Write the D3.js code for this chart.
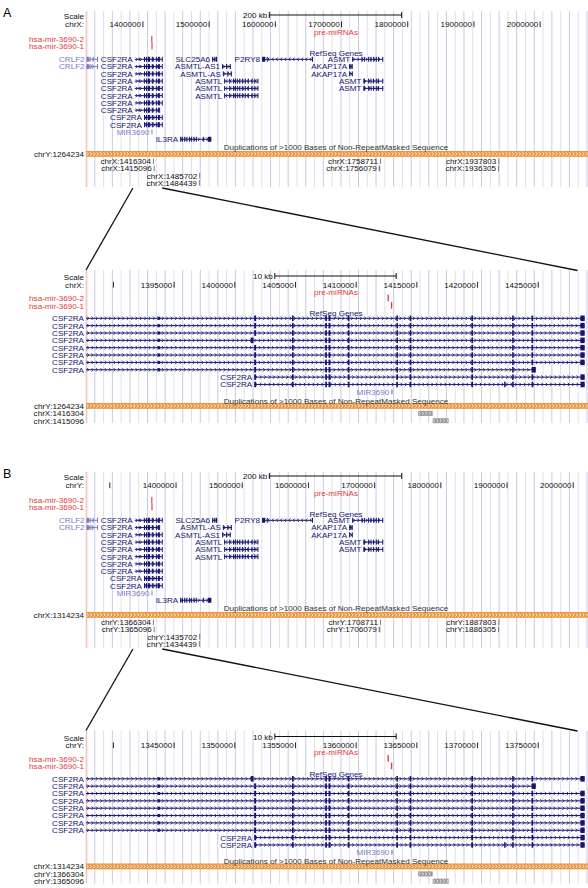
<!DOCTYPE html>
<html><head><meta charset="utf-8">
<script src="https://cdn.jsdelivr.net/npm/d3@7"></script>
<style>
body{margin:0;background:#fff}
text{font-family:"Liberation Sans",Arial,Helvetica,sans-serif}
</style>
</head><body>
<script>
// ---------------- DATA ----------------
const panelLabels = ["A", "B"];
const panelChroms = ["chrX", "chrY"];
const otherChroms = ["chrY", "chrX"];
const chromOffsets = [0, 50000];               // PAR1: chrY coordinate = chrX - 50000
const overviewRangeX = [1314000, 2072300];     // chrX coordinates
const detailRangeX = [1387740, 1429100];       // chrX coordinates
const overviewTicks = [1300000, 1400000, 1500000, 1600000, 1700000, 1800000, 1900000, 2000000];
const detailTicksByPanel = [
  [1390000, 1395000, 1400000, 1405000, 1410000, 1415000, 1420000, 1425000],
  [1340000, 1345000, 1350000, 1355000, 1360000, 1365000, 1370000, 1375000]
];
const overviewScaleKb = 200;
const detailScaleKb = 10;
const zoomLinkX = [1384900, 1429260];

const trackTitles = ["pre-miRNAs", "RefSeq Genes", "Duplications of >1000 Bases of Non-RepeatMasked Sequence"];

const mirNames = ["hsa-mir-3690-2", "hsa-mir-3690-1"];
const mirStarts = [1412580, 1412860];
const mirEnds = [1412690, 1412970];

// CSF2RA exons (chrX)
const csf2raExonStarts = [1393640, 1401600, 1404710, 1407450, 1407720, 1409310, 1413310, 1414410, 1419490, 1422850, 1424450, 1428480];
const csf2raExonEnds   = [1393860, 1401760, 1404850, 1407590, 1407880, 1409450, 1413440, 1414540, 1419630, 1422980, 1424580, 1428828];
const csf2raUtrExon = 0;
const csf2raVariantNames = ["v1", "v2", "v7", "v8", "v9"];
const csf2raVariantStarts = [1387650, 1387650, 1387650, 1401600, 1401600];
const csf2raVariantEnds   = [1428828, 1428828, 1424800, 1428828, 1428828];
const csf2raVariantExons = [
  [0,1,2,3,4,5,6,7,8,9,10,11],
  [0,2,3,4,5,6,7,8,9,10,11],
  [0,1,2,3,4,5,6,7,8,9],
  [1,2,3,4,5,6,7,8,9,10,11],
  [1,2,3,4,5,6,7,8,9,10,11]
];
const csf2raVariantExtra = [[], [[1401320, 1401540]], [[1424460, 1424800]], [], [[1422190, 1422310]]];
const csf2raOrderByPanel = [
  ["v1","v1","v1","v2","v1","v1","v1","v7","v8","v9"],
  ["v2","v7","v1","v1","v1","v1","v1","v1","v8","v9"]
];

// other RefSeq genes in the overview (chrX)
const geneNames   = ["CRLF2","CRLF2","SLC25A6","P2RY8","ASMT","ASMTL-AS1","ASMTL-AS","AKAP17A","AKAP17A","ASMTL","ASMTL","ASMTL","ASMT","ASMT","MIR3690","IL3RA"];
const geneStrands = [-1,-1,-1,-1,1,1,1,1,1,-1,-1,-1,1,1,1,1];
const genePredicted = [true,true,false,false,false,false,false,false,false,false,false,false,false,false,true,false];
const geneRowsA = [0,1,0,0,0,1,2,1,2,3,4,5,3,4,10,11];
const geneRowsB = [0,1,0,0,0,2,1,1,2,3,4,5,3,4,10,11];
const geneStarts = [1314894,1314894,1504500,1580000,1716000,1519600,1520700,1711500,1711500,1522700,1522700,1522700,1733100,1733100,1412900,1456200];
const geneEnds   = [1331616,1331616,1512100,1656600,1762800,1532700,1534300,1716500,1716500,1574000,1574000,1574000,1762800,1762800,1412990,1503300];
const asmtExons = [[1730200,1731200],[1733700,1734700],[1740200,1741200],[1743800,1744800],[1747700,1748700],[1751800,1752800],[1755200,1756200],[1761500,1762800]];
const asmtlExons = [[1522700,1523700],[1530300,1531300],[1536200,1537400],[1538800,1540000],[1541800,1543200],[1545600,1546800],[1549400,1550600],[1553900,1555000],[1558400,1559400],[1564000,1565000],[1568200,1569200],[1573000,1574000]];
const geneExons = [
  [[1314894,1318300],[1319500,1320700],[1324000,1325000],[1330600,1331616]],
  [[1314894,1318300],[1319500,1320700],[1322500,1323500],[1330600,1331616]],
  [[1504500,1506300],[1507900,1508900],[1510300,1512100]],
  [[1580000,1584600],[1587000,1588000],[1655400,1656600]],
  [[1716000,1717000]].concat(asmtExons),
  [[1519600,1521000],[1525500,1526500],[1531000,1532700]],
  [[1520700,1522200],[1527500,1528700],[1532500,1534300]],
  [[1711500,1712600],[1713400,1714500],[1715400,1716500]],
  [[1711500,1712500],[1715500,1716500]],
  asmtlExons, asmtlExons, asmtlExons,
  [[1733100,1734100]].concat(asmtExons.slice(1)),
  [[1733100,1734100]].concat(asmtExons.slice(1)),
  [[1412900,1412990]],
  [[1456200,1457000],[1458800,1459600],[1462300,1463100],[1465700,1466500],[1469400,1470200],[1472800,1473600],[1476400,1477200],[1479900,1480700],[1491000,1491800],[1498000,1503300]]
];

// duplication (orange) and paired items below it (chrX)
const dupStartX = 1314234, dupEndX = 2699520;
const chainValues = [1416304, 1415096, 1485702, 1484439, 1758711, 1756079, 1937803, 1936305];
const chainStarts = [1415100, 1416304, 1485000, 1484439, 1758000, 1756079, 1936800, 1936305];
const chainEnds   = [1416304, 1417620, 1485702, 1485100, 1758711, 1758500, 1937803, 1937400];
const chainRows   = [0, 1, 2, 3, 0, 1, 0, 1];

// ---------------- DRAWING ----------------
const W = 588, H = 888, X0 = 86, X1 = 588;
const NAVY = "#16166e", LIGHT = "#7b7bc3", RED = "#de3b3b", ORANGE = "#ea9640";
const FS = 8.1;
const svg = d3.select("body").append("svg").attr("width", W).attr("height", H);
svg.append("defs").append("clipPath").attr("id", "dc")
  .append("rect").attr("x", X0).attr("y", 0).attr("width", X1 - X0).attr("height", H);

function txt(g, x, y, s, anchor, fill, size) {
  return g.append("text").attr("x", x).attr("y", y).attr("text-anchor", anchor || "end")
    .attr("fill", fill || "#111").attr("font-size", size || FS).text(s);
}
function grid(g, y0, y1) {
  const step = 8.79;
  const xs = d3.range(1, Math.floor((X1 - X0) / step) + 1).map(i => X0 + i * step);
  g.selectAll(null).data(xs).enter().append("line")
    .attr("x1", d => d).attr("x2", d => d).attr("y1", y0).attr("y2", y1)
    .attr("stroke", (d, i) => i % 2 === 0 ? "#c9c9e4" : "#dfdfea").attr("stroke-width", 1);
  g.append("line").attr("x1", X0 + 0.5).attr("x2", X0 + 0.5).attr("y1", y0).attr("y2", y1)
    .attr("stroke", "#f3c2c2").attr("stroke-width", 1.6);
}
function chevrons(g, a, b, y, dir, step, color, sw, hh) {
  let d = "";
  for (let x = a + step / 2; x < b - 1; x += step) {
    if (dir > 0) d += `M${x - 1},${y - hh}L${x + 0.6},${y}L${x - 1},${y + hh}`;
    else d += `M${x + 1},${y - hh}L${x - 0.6},${y}L${x + 1},${y + hh}`;
  }
  g.append("path").attr("d", d).attr("fill", "none").attr("stroke", color).attr("stroke-width", sw);
}
function transcript(g, x, start, end, strand, exons, yc, color, exonH, chevStep, utrIdx) {
  const a = Math.max(x(start), X0), b = Math.min(x(end), X1);
  if (b < X0 || a > X1) return;
  g.append("line").attr("x1", a).attr("x2", b).attr("y1", yc).attr("y2", yc)
    .attr("stroke", color).attr("stroke-width", 1);
  chevrons(g, a, b, yc, strand, chevStep, color, 0.85, 1.7);
  exons.forEach((e, i) => {
    const h = (utrIdx && utrIdx.includes(i)) ? exonH * 0.55 : exonH;
    const xa = x(e[0]), w = Math.max(1, x(e[1]) - x(e[0]));
    g.append("rect").attr("x", xa).attr("y", yc - h / 2).attr("width", w).attr("height", h).attr("fill", color);
  });
}
function scaleBar(g, x, kb, y) {
  const d0 = x.domain()[0];
  const w = x(d0 + kb * 1000) - x(d0);
  const c = (X0 + X1) / 2 - 1.5, a = c - w / 2, b = c + w / 2;
  g.append("line").attr("x1", a).attr("x2", b).attr("y1", y).attr("y2", y).attr("stroke", "#111");
  [a, b].forEach(v => g.append("line").attr("x1", v).attr("x2", v).attr("y1", y - 3).attr("y2", y + 3).attr("stroke", "#111"));
  txt(g, a - 2, y + 3, `${kb} kb`);
}
function axisTicks(g, x, ticks, base) {
  ticks.filter(v => x(v) >= X0 && x(v) <= X1).forEach(v => {
    const px = x(v);
    g.append("line").attr("x1", px).attr("x2", px).attr("y1", base - 5.8).attr("y2", base).attr("stroke", "#111").attr("stroke-width", 0.9);
    const s = String(v);
    if (px - 2 - s.length * 4.45 >= X0 + 4) txt(g, px - 1.8, base, s);
  });
}
function csfTranscript(name) {
  const k = csf2raVariantNames.indexOf(name);
  const ex = csf2raVariantExons[k].map(i => [csf2raExonStarts[i], csf2raExonEnds[i]]).concat(csf2raVariantExtra[k]);
  const utr = csf2raVariantExons[k].indexOf(csf2raUtrExon);
  return { start: csf2raVariantStarts[k], end: csf2raVariantEnds[k], exons: ex, utr: utr >= 0 ? [utr] : [] };
}
function dupBar(g, xg, yc) {
  const a = Math.max(xg(dupStartX), X0), b = Math.min(xg(dupEndX), X1);
  g.append("rect").attr("x", a).attr("y", yc - 2.9).attr("width", b - a).attr("height", 5.8).attr("fill", ORANGE);
  chevrons(g, a, b, yc, 1, 3.35, "#fff8ee", 0.9, 1.7);
}

function overview(p, oy) {
  const off = chromOffsets[p];
  const x = d3.scaleLinear().domain(overviewRangeX.map(v => v - off)).range([X0, X1]);
  const xg = v => x(v - off);
  const g = svg.append("g").attr("transform", `translate(0,${oy})`);
  grid(g, 11, 187);
  txt(g, 3, 16.5, panelLabels[p], "start", "#000", 12.5);
  txt(g, X0 - 2, 18.9, "Scale");
  txt(g, X0 - 2, 27.2, panelChroms[p] + ":");
  scaleBar(g, x, overviewScaleKb, 15);
  axisTicks(g, x, overviewTicks, 27.2);
  txt(g, 336, 35.2, trackTitles[0], "middle", RED);
  const mirY = [39.3, 46];
  const d = g.append("g").attr("clip-path", "url(#dc)");
  mirNames.forEach((n, i) => {
    txt(g, X0 - 2, mirY[i] + 2.9, n, "end", RED);
    d.append("rect").attr("x", xg(mirStarts[i])).attr("y", mirY[i] - 3.4).attr("width", 1.1).attr("height", 6.8).attr("fill", RED);
  });
  txt(g, 336, 56, trackTitles[1], "middle", NAVY);
  const rowY = r => 59.3 + 7.27 * r;
  csf2raOrderByPanel[p].forEach((v, r) => {
    const t = csfTranscript(v);
    transcript(d, xg, t.start, t.end, 1, t.exons, rowY(r), NAVY, 5, 4.2, t.utr);
    txt(g, Math.max(xg(t.start), X0) - 2, rowY(r) + 2.9, "CSF2RA", "end", NAVY);
  });
  const rows = p === 0 ? geneRowsA : geneRowsB;
  geneNames.forEach((n, i) => {
    const col = genePredicted[i] ? LIGHT : NAVY;
    transcript(d, xg, geneStarts[i], geneEnds[i], geneStrands[i], geneExons[i], rowY(rows[i]), col, 5, 4.2, []);
    txt(g, Math.max(xg(geneStarts[i]), X0) - 2, rowY(rows[i]) + 2.9, n, "end", col);
  });
  txt(g, 336, 150.4, trackTitles[2], "middle", "#333");
  dupBar(d, xg, 153.9);
  txt(g, X0 - 2, 153.9 + 2.9, `${otherChroms[p]}:${dupStartX - chromOffsets[1 - p]}`);
  chainValues.forEach((v, i) => {
    const yc = 161.3 + 7.2 * chainRows[i];
    const a = xg(chainStarts[i]), w = Math.max(1, xg(chainEnds[i]) - a);
    d.append("rect").attr("x", a).attr("y", yc - 2.8).attr("width", w).attr("height", 5.6).attr("fill", "#7e7e7e");
    txt(g, a - 2, yc + 2.9, `${panelChroms[p]}:${v - off}`);
  });
  return xg;
}

function detail(p, oy) {
  const off = chromOffsets[p];
  const x = d3.scaleLinear().domain(detailRangeX.map(v => v - off)).range([X0, X1]);
  const xg = v => x(v - off);
  const g = svg.append("g").attr("transform", `translate(0,${oy})`);
  grid(g, 270, 423);
  txt(g, X0 - 2, 280.2, "Scale");
  txt(g, X0 - 2, 287.9, panelChroms[p] + ":");
  scaleBar(g, x, detailScaleKb, 276);
  axisTicks(g, x, detailTicksByPanel[p], 287.7);
  txt(g, 336, 294.6, trackTitles[0], "middle", RED);
  const d = g.append("g").attr("clip-path", "url(#dc)");
  const mirY = [298.3, 305.8];
  mirNames.forEach((n, i) => {
    txt(g, X0 - 2, mirY[i] + 2.9, n, "end", RED);
    d.append("rect").attr("x", xg(mirStarts[i])).attr("y", mirY[i] - 3.7).attr("width", Math.max(1.1, xg(mirEnds[i]) - xg(mirStarts[i]))).attr("height", 6.6).attr("fill", RED);
  });
  txt(g, 336, 316.2, trackTitles[1], "middle", NAVY);
  const rowY = r => 318.3 + 7.35 * r;
  csf2raOrderByPanel[p].forEach((v, r) => {
    const t = csfTranscript(v);
    transcript(d, xg, t.start, t.end, 1, t.exons, rowY(r), NAVY, 5.6, 4.4, t.utr);
    txt(g, Math.max(xg(t.start), X0) - 2, rowY(r) + 2.9, "CSF2RA", "end", NAVY);
  });
  const mi = geneNames.indexOf("MIR3690");
  transcript(d, xg, geneStarts[mi], geneEnds[mi], 1, geneExons[mi], rowY(10), LIGHT, 5, 4.4, []);
  txt(g, xg(geneStarts[mi]) - 2, rowY(10) + 2.9, "MIR3690", "end", LIGHT);
  txt(g, 336, 403.6, trackTitles[2], "middle", "#333");
  dupBar(d, xg, 405.9);
  txt(g, X0 - 2, 405.9 + 2.9, `${otherChroms[p]}:${dupStartX - chromOffsets[1 - p]}`);
  let r = 0;
  chainValues.forEach((v, i) => {
    const a = xg(chainStarts[i]), b = xg(chainEnds[i]);
    if (b < X0 || a > X1) return;
    const yc = 413.4 + 7.3 * r++;
    d.append("rect").attr("x", a).attr("y", yc - 2.5).attr("width", b - a).attr("height", 5).attr("fill", "#9a9a9a");
    chevrons(d, a, b, yc, 1, 3.3, "#f4f4f4", 0.8, 1.5);
    txt(g, X0 - 2, yc + 2.9, `${panelChroms[p]}:${v - off}`);
  });
}

panelLabels.forEach((lab, p) => {
  const oy = [0, 461][p], dy = [0, 460.5][p];
  const xg = overview(p, oy);
  detail(p, dy);
  const links = [[xg(zoomLinkX[0]), 188 + oy, X0, 270 + dy], [xg(zoomLinkX[1]), 188 + oy, 577.5, 270.5 + dy]];
  svg.selectAll(null).data(links).enter().append("line")
    .attr("x1", l => l[0]).attr("y1", l => l[1]).attr("x2", l => l[2]).attr("y2", l => l[3])
    .attr("stroke", "#111").attr("stroke-width", 1.3);
});
</script>
</body></html>
